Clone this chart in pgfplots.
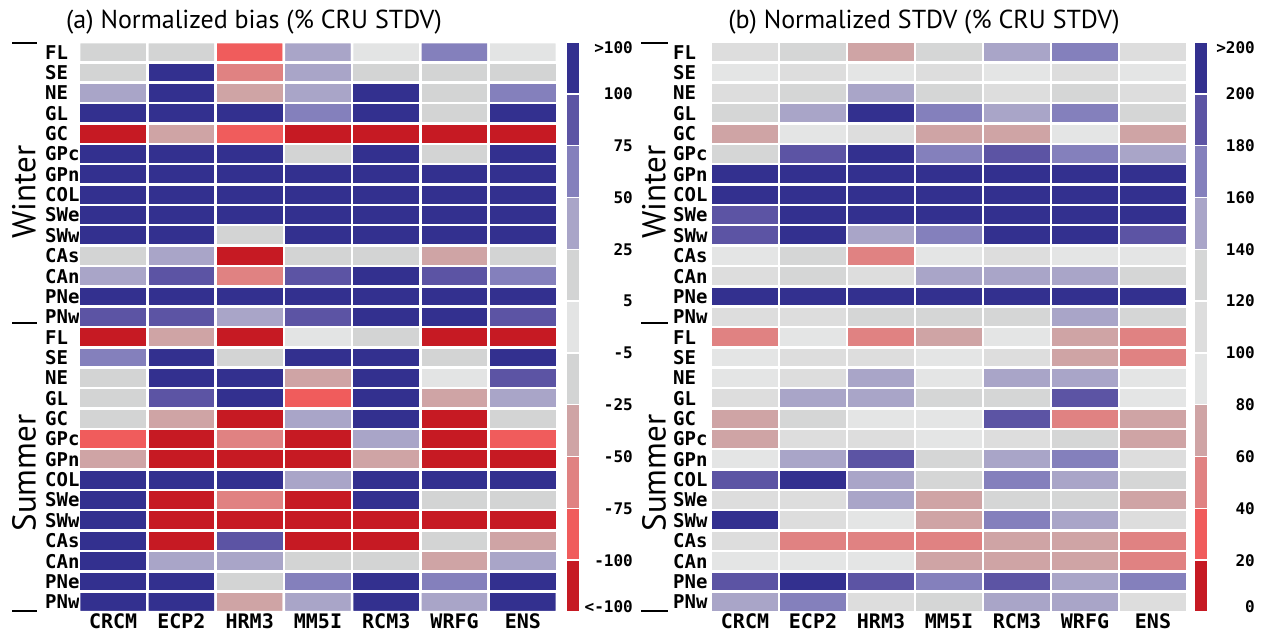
\documentclass[border=0pt]{standalone}
\usepackage{fontspec}
\setmainfont{PT Sans}
\newfontfamily\monob{DejaVu Sans Mono}
\usepackage{pgfplots}
\pgfplotsset{compat=1.18}

% colour classes, from strongest negative (0) to strongest positive (10)
\definecolor{ca0}{RGB}{198,26,35}
\definecolor{ca1}{RGB}{240,92,92}
\definecolor{ca2}{RGB}{224,130,130}
\definecolor{ca3}{RGB}{207,164,165}
\definecolor{ca4}{RGB}{211,212,212}
\definecolor{ca5}{RGB}{227,228,228}
\definecolor{ca6}{RGB}{211,212,212}
\definecolor{ca7}{RGB}{169,165,200}
\definecolor{ca8}{RGB}{132,128,188}
\definecolor{ca9}{RGB}{92,84,164}
\definecolor{ca10}{RGB}{51,48,143}

\definecolor{cb0}{RGB}{198,26,35}
\definecolor{cb1}{RGB}{240,92,92}
\definecolor{cb2}{RGB}{224,130,130}
\definecolor{cb3}{RGB}{207,164,165}
\definecolor{cb4}{RGB}{228,229,229}
\definecolor{cb5}{RGB}{221,221,221}
\definecolor{cb6}{RGB}{213,214,214}
\definecolor{cb7}{RGB}{169,165,200}
\definecolor{cb8}{RGB}{132,128,188}
\definecolor{cb9}{RGB}{92,84,164}
\definecolor{cb10}{RGB}{51,48,143}

\pgfplotsset{
  colormap={biasmap}{rgb255=(198,26,35) rgb255=(240,92,92) rgb255=(224,130,130)
    rgb255=(207,164,165) rgb255=(211,212,212) rgb255=(227,228,228) rgb255=(211,212,212)
    rgb255=(169,165,200) rgb255=(132,128,188) rgb255=(92,84,164) rgb255=(51,48,143)},
  colormap={stdvmap}{rgb255=(198,26,35) rgb255=(240,92,92) rgb255=(224,130,130)
    rgb255=(207,164,165) rgb255=(228,229,229) rgb255=(221,221,221) rgb255=(213,214,214)
    rgb255=(169,165,200) rgb255=(132,128,188) rgb255=(92,84,164) rgb255=(51,48,143)},
  heat/.style={
    scale only axis, width=478pt, height=570pt, anchor=south west,
    xmin=-0.5, xmax=6.5, ymin=-0.5, ymax=27.5, y dir=reverse,
    axis line style={draw=none}, major tick length=0pt,
    xtick={0,...,6}, xticklabels={CRCM,ECP2,HRM3,MM5I,RCM3,WRFG,ENS},
    ytick={0,...,27},
    yticklabels={FL,SE,NE,GL,GC,GPc,GPn,COL,SWe,SWw,CAs,CAn,PNe,PNw,
                 FL,SE,NE,GL,GC,GPc,GPn,COL,SWe,SWw,CAs,CAn,PNe,PNw},
    xticklabel style={font=\monob\bfseries\fontsize{20}{20}\selectfont, inner sep=1.5pt, anchor=north},
    yticklabel style={font=\monob\bfseries\fontsize{19}{19}\selectfont, inner sep=0pt, anchor=west},
    point meta=explicit, colormap access=direct,
  },
  cbar/.style={
    scale only axis, width=14pt, height=570pt, anchor=south west,
    xmin=-0.5, xmax=0.5, ymin=0, ymax=11,
    ybar stacked, bar width=14pt,
    axis line style={draw=none}, major tick length=0pt,
    xtick=\empty, ytick={0.1,1,2,3,4,5,6,7,8,9,10,10.9},
    yticklabel pos=right,
    yticklabel style={font=\monob\bfseries\fontsize{16}{16}\selectfont, inner sep=0pt, anchor=east},
  },
}

\begin{document}
\begin{tikzpicture}
\useasboundingbox (0,0) rectangle (1261pt,633pt);

% ---------------- (a) normalized bias ----------------
\begin{axis}[heat, at={(79pt,21pt)}, colormap name=biasmap,
  yticklabel style={xshift=-34pt}]
\addplot[matrix plot*, mesh/cols=7, draw=white, line width=2.5pt] coordinates {
(0,0)[6] (1,0)[6] (2,0)[1] (3,0)[7] (4,0)[5] (5,0)[8] (6,0)[5]
(0,1)[6] (1,1)[10] (2,1)[2] (3,1)[7] (4,1)[6] (5,1)[6] (6,1)[6]
(0,2)[7] (1,2)[10] (2,2)[3] (3,2)[7] (4,2)[10] (5,2)[6] (6,2)[8]
(0,3)[10] (1,3)[10] (2,3)[10] (3,3)[8] (4,3)[10] (5,3)[6] (6,3)[10]
(0,4)[0] (1,4)[3] (2,4)[1] (3,4)[0] (4,4)[0] (5,4)[0] (6,4)[0]
(0,5)[10] (1,5)[10] (2,5)[10] (3,5)[6] (4,5)[10] (5,5)[6] (6,5)[10]
(0,6)[10] (1,6)[10] (2,6)[10] (3,6)[10] (4,6)[10] (5,6)[10] (6,6)[10]
(0,7)[10] (1,7)[10] (2,7)[10] (3,7)[10] (4,7)[10] (5,7)[10] (6,7)[10]
(0,8)[10] (1,8)[10] (2,8)[10] (3,8)[10] (4,8)[10] (5,8)[10] (6,8)[10]
(0,9)[10] (1,9)[10] (2,9)[6] (3,9)[10] (4,9)[10] (5,9)[10] (6,9)[10]
(0,10)[6] (1,10)[7] (2,10)[0] (3,10)[6] (4,10)[6] (5,10)[3] (6,10)[6]
(0,11)[7] (1,11)[9] (2,11)[2] (3,11)[9] (4,11)[10] (5,11)[9] (6,11)[8]
(0,12)[10] (1,12)[10] (2,12)[10] (3,12)[10] (4,12)[10] (5,12)[10] (6,12)[10]
(0,13)[9] (1,13)[9] (2,13)[7] (3,13)[9] (4,13)[10] (5,13)[10] (6,13)[9]
(0,14)[0] (1,14)[3] (2,14)[0] (3,14)[5] (4,14)[6] (5,14)[0] (6,14)[0]
(0,15)[8] (1,15)[10] (2,15)[6] (3,15)[10] (4,15)[10] (5,15)[6] (6,15)[10]
(0,16)[6] (1,16)[10] (2,16)[10] (3,16)[3] (4,16)[10] (5,16)[5] (6,16)[9]
(0,17)[6] (1,17)[9] (2,17)[10] (3,17)[1] (4,17)[10] (5,17)[3] (6,17)[7]
(0,18)[6] (1,18)[3] (2,18)[0] (3,18)[7] (4,18)[10] (5,18)[0] (6,18)[6]
(0,19)[1] (1,19)[0] (2,19)[2] (3,19)[0] (4,19)[7] (5,19)[0] (6,19)[1]
(0,20)[3] (1,20)[0] (2,20)[0] (3,20)[0] (4,20)[3] (5,20)[0] (6,20)[0]
(0,21)[10] (1,21)[10] (2,21)[10] (3,21)[7] (4,21)[10] (5,21)[10] (6,21)[10]
(0,22)[10] (1,22)[0] (2,22)[2] (3,22)[0] (4,22)[10] (5,22)[6] (6,22)[6]
(0,23)[10] (1,23)[0] (2,23)[0] (3,23)[0] (4,23)[0] (5,23)[0] (6,23)[0]
(0,24)[10] (1,24)[0] (2,24)[9] (3,24)[0] (4,24)[0] (5,24)[6] (6,24)[3]
(0,25)[10] (1,25)[7] (2,25)[7] (3,25)[6] (4,25)[6] (5,25)[3] (6,25)[7]
(0,26)[10] (1,26)[10] (2,26)[6] (3,26)[8] (4,26)[10] (5,26)[8] (6,26)[10]
(0,27)[10] (1,27)[10] (2,27)[3] (3,27)[7] (4,27)[10] (5,27)[7] (6,27)[10]
};
\end{axis}

\begin{axis}[cbar, at={(566pt,21pt)},
  yticklabels={{<-100},{-100},{-75},{-50},{-25},{-5},{5},{25},{50},{75},{100},{>100}},
  yticklabel style={xshift=53pt}]
\pgfplotsinvokeforeach{0,...,10}{
  \addplot[fill=ca#1, draw=white, line width=1.5pt] coordinates {(0,1)};
}
\end{axis}

% ---------------- (b) normalized standard deviation ----------------
\begin{axis}[heat, at={(711pt,21pt)}, width=476pt, colormap name=stdvmap,
  yticklabel style={xshift=-38pt}]
\addplot[matrix plot*, mesh/cols=7, draw=white, line width=2.5pt] coordinates {
(0,0)[5] (1,0)[6] (2,0)[3] (3,0)[6] (4,0)[7] (5,0)[8] (6,0)[5]
(0,1)[4] (1,1)[5] (2,1)[4] (3,1)[5] (4,1)[4] (5,1)[5] (6,1)[4]
(0,2)[5] (1,2)[6] (2,2)[7] (3,2)[6] (4,2)[5] (5,2)[6] (6,2)[5]
(0,3)[6] (1,3)[7] (2,3)[10] (3,3)[8] (4,3)[7] (5,3)[8] (6,3)[6]
(0,4)[3] (1,4)[4] (2,4)[5] (3,4)[3] (4,4)[3] (5,4)[4] (6,4)[3]
(0,5)[6] (1,5)[9] (2,5)[10] (3,5)[8] (4,5)[9] (5,5)[8] (6,5)[7]
(0,6)[10] (1,6)[10] (2,6)[10] (3,6)[10] (4,6)[10] (5,6)[10] (6,6)[10]
(0,7)[10] (1,7)[10] (2,7)[10] (3,7)[10] (4,7)[10] (5,7)[10] (6,7)[10]
(0,8)[9] (1,8)[10] (2,8)[10] (3,8)[10] (4,8)[10] (5,8)[10] (6,8)[10]
(0,9)[9] (1,9)[10] (2,9)[7] (3,9)[8] (4,9)[10] (5,9)[10] (6,9)[9]
(0,10)[4] (1,10)[6] (2,10)[2] (3,10)[4] (4,10)[5] (5,10)[4] (6,10)[4]
(0,11)[5] (1,11)[6] (2,11)[5] (3,11)[7] (4,11)[7] (5,11)[7] (6,11)[6]
(0,12)[10] (1,12)[10] (2,12)[10] (3,12)[10] (4,12)[10] (5,12)[10] (6,12)[10]
(0,13)[5] (1,13)[5] (2,13)[6] (3,13)[6] (4,13)[6] (5,13)[7] (6,13)[6]
(0,14)[2] (1,14)[4] (2,14)[2] (3,14)[3] (4,14)[4] (5,14)[3] (6,14)[2]
(0,15)[4] (1,15)[5] (2,15)[5] (3,15)[4] (4,15)[5] (5,15)[3] (6,15)[2]
(0,16)[4] (1,16)[5] (2,16)[7] (3,16)[4] (4,16)[7] (5,16)[7] (6,16)[4]
(0,17)[5] (1,17)[7] (2,17)[7] (3,17)[6] (4,17)[6] (5,17)[9] (6,17)[4]
(0,18)[3] (1,18)[6] (2,18)[4] (3,18)[4] (4,18)[9] (5,18)[2] (6,18)[3]
(0,19)[3] (1,19)[5] (2,19)[5] (3,19)[4] (4,19)[5] (5,19)[6] (6,19)[3]
(0,20)[4] (1,20)[7] (2,20)[9] (3,20)[6] (4,20)[7] (5,20)[8] (6,20)[5]
(0,21)[9] (1,21)[10] (2,21)[7] (3,21)[6] (4,21)[8] (5,21)[7] (6,21)[6]
(0,22)[5] (1,22)[5] (2,22)[7] (3,22)[3] (4,22)[6] (5,22)[6] (6,22)[3]
(0,23)[10] (1,23)[5] (2,23)[4] (3,23)[3] (4,23)[8] (5,23)[7] (6,23)[5]
(0,24)[5] (1,24)[2] (2,24)[2] (3,24)[2] (4,24)[3] (5,24)[3] (6,24)[2]
(0,25)[4] (1,25)[4] (2,25)[4] (3,25)[3] (4,25)[3] (5,25)[3] (6,25)[2]
(0,26)[9] (1,26)[10] (2,26)[9] (3,26)[8] (4,26)[9] (5,26)[7] (6,26)[8]
(0,27)[7] (1,27)[8] (2,27)[5] (3,27)[6] (4,27)[7] (5,27)[7] (6,27)[5]
};
\end{axis}

\begin{axis}[cbar, at={(1194pt,21pt)},
  yticklabels={0,20,40,60,80,100,120,140,160,180,200,{>200}},
  yticklabel style={xshift=47pt}]
\pgfplotsinvokeforeach{0,...,10}{
  \addplot[fill=cb#1, draw=white, line width=1.5pt] coordinates {(0,1)};
}
\end{axis}

% ---------------- titles, season labels and separators ----------------
\node[font=\fontsize{26}{26}\selectfont] at (254pt,611pt) {(a) Normalized bias (\% CRU STDV)};
\node[font=\fontsize{26}{26}\selectfont] at (924pt,611pt) {(b) Normalized STDV (\% CRU STDV)};

\foreach \xx in {24pt,654pt}{
  \node[rotate=90, font=\fontsize{33}{33}\selectfont] at (\xx,441pt) {Winter};
  \node[rotate=90, font=\fontsize{33}{33}\selectfont] at (\xx,160pt) {Summer};
}
\foreach \yy in {590pt,310pt,22pt}{
  \draw[line width=2pt] (12pt,\yy) -- (37pt,\yy);
  \draw[line width=2pt] (641pt,\yy) -- (668pt,\yy);
}
\end{tikzpicture}
\end{document}
